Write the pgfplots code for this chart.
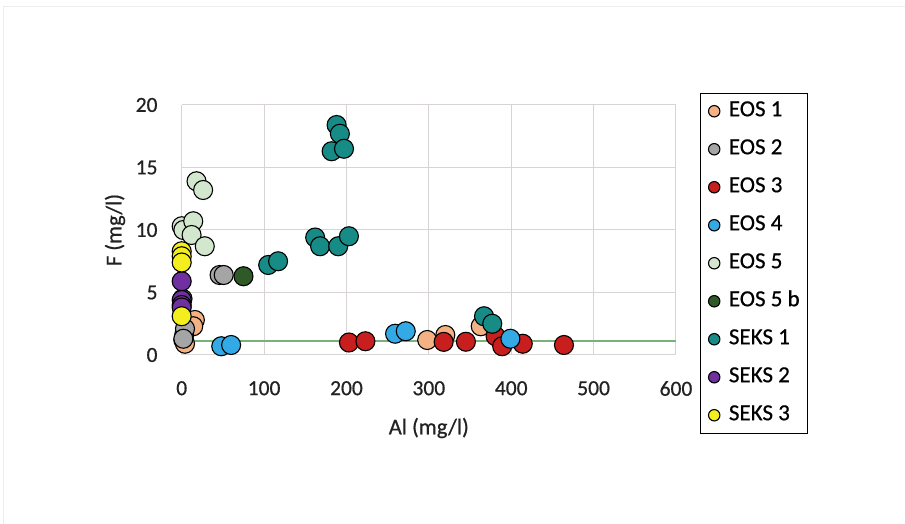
\documentclass[border=0pt]{standalone}
\usepackage{fontspec}
\setmainfont{Carlito}[RawFeature={embolden=0.6}]
\usepackage{pgfplots}
\pgfplotsset{compat=1.18}
\definecolor{cEOSa}{HTML}{F4B183}
\definecolor{cEOSb}{HTML}{A5A5A5}
\definecolor{cEOSc}{HTML}{C81E1E}
\definecolor{cEOSd}{HTML}{33AAE6}
\definecolor{cEOSe}{HTML}{D3E7CF}
\definecolor{cEOSf}{HTML}{2F5A27}
\definecolor{cSEKSa}{HTML}{178C86}
\definecolor{cSEKSb}{HTML}{7030A0}
\definecolor{cSEKSc}{HTML}{F5EE1E}
\definecolor{limitline}{HTML}{78B27A}
\definecolor{gridc}{HTML}{D9D4D4}
\definecolor{txt}{HTML}{222222}
\begin{document}
\begin{tikzpicture}[x=1pt,y=1pt]
\useasboundingbox (0,0) rectangle (905,524);
\fill[white] (0,0) rectangle (905,524);
\draw[black!7, line width=1pt] (3,0) -- (3,517) -- (905,517);
\begin{axis}[
  at={(181.7pt,169pt)}, anchor=south west,
  scale only axis, width=494.3pt, height=250pt,
  xmin=0, xmax=600, ymin=0, ymax=20,
  xtick={0,100,...,600}, ytick={0,5,...,20},
  clip=false,
  axis line style={draw=none},
  tick style={draw=none}, major tick length=0pt,
  grid=major, major grid style={draw=gridc, line width=1pt},
  /pgf/number format/assume math mode=true,
  tick label style={font=\fontsize{21.5}{24}\selectfont, text=txt, inner sep=0pt},
  yticklabel style={anchor=east, xshift=-24pt},
  xticklabel style={anchor=north, yshift=-26pt},
  xlabel={Al (mg/l)}, ylabel={F (mg/l)},
  label style={font=\fontsize{22.5}{26}\selectfont, text=txt},
  xlabel style={at={(rel axis cs:0.5,-0.292)}, anchor=center},
  ylabel style={at={(rel axis cs:-0.135,0.5)}, anchor=center, rotate=0},
  legend style={at={(rel axis cs:1.0486,1.049)}, anchor=north west,
    draw=black, line width=1pt, fill=white, text=black,
    font=\fontsize{23}{26}\selectfont,
    inner xsep=8pt, inner ysep=8pt, row sep=18pt,
    nodes={inner sep=0pt, text height=15pt, text depth=5pt},
    column sep=9pt},
  legend cell align=left,
  legend image code/.code={\draw[mark repeat=2,mark phase=2,#1] plot coordinates {(0pt,0pt)(6pt,0pt)(12pt,0pt)};},
  legend image post style={mark size=5.7pt, line width=1pt},
  every axis plot/.append style={only marks, mark=*, mark size=9.5pt},
]
\addplot[color=limitline, line width=2.2pt, no marks, forget plot, sharp plot] coordinates {(0,1.1) (600,1.1)};
\addplot[mark options={draw=black, line width=1.1pt, fill=cEOSa}] coordinates {
(2,1.2) (4,0.9) (16,2.8) (14,2.3) (298,1.2) (320,1.6) (363,2.3)};
\addlegendentry{EOS 1}
\addplot[mark options={draw=black, line width=1.1pt, fill=cEOSb}] coordinates {
(46,6.4) (51,6.4) (3,1.6) (4,2.1) (2,1.3) (1,4.5)};
\addlegendentry{EOS 2}
\addplot[mark options={draw=black, line width=1.1pt, fill=cEOSc}] coordinates {
(203,1.0) (223,1.1) (318,1.05) (345,1.06) (381,1.5) (389,0.7) (414,0.9) (464,0.8)};
\addlegendentry{EOS 3}
\addplot[mark options={draw=black, line width=1.1pt, fill=cEOSd}] coordinates {
(48,0.7) (60,0.8) (259,1.7) (272,1.9) (399,1.3)};
\addlegendentry{EOS 4}
\addplot[mark options={draw=black, line width=1.1pt, fill=cEOSe}] coordinates {
(18,13.9) (26,13.2) (0,10.3) (2,10.0) (14,10.7) (12,9.6) (28,8.7)};
\addlegendentry{EOS 5}
\addplot[mark options={draw=black, line width=1.1pt, fill=cEOSf}] coordinates {
(75,6.3)};
\addlegendentry{EOS 5 b}
\addplot[mark options={draw=black, line width=1.1pt, fill=cSEKSa}] coordinates {
(188,18.4) (192,17.7) (182,16.3) (197,16.5) (162,9.4) (168,8.7) (190,8.7) (203,9.5) (105,7.2) (117,7.5) (367,3.1) (377,2.5)};
\addlegendentry{SEKS 1}
\addplot[mark options={draw=black, line width=1.1pt, fill=cSEKSb}] coordinates {
(0,5.9) (0,4.4) (0,4.0) (0,3.8)};
\addlegendentry{SEKS 2}
\addplot[mark options={draw=black, line width=1.1pt, fill=cSEKSc}] coordinates {
(0,8.3) (0,7.9) (0,7.4) (0,3.1)};
\addlegendentry{SEKS 3}
\end{axis}
\end{tikzpicture}
\end{document}
